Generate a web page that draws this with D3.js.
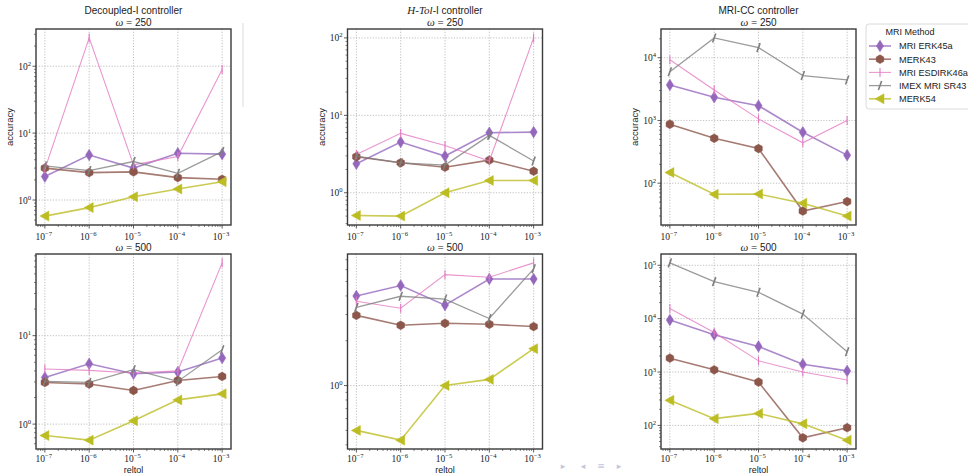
<!DOCTYPE html>
<html>
<head>
<meta charset="utf-8">
<script src="https://cdn.jsdelivr.net/npm/d3@7"></script>
<style>
  body { margin: 0; background: #fff; }
  svg { display: block; }
</style>
</head>
<body>
<div id="chart"></div>
<script>
// x values shared by every panel
const reltol = [1e-7, 1e-6, 1e-5, 1e-4, 1e-3];
const methods = ['MRI ERK45a', 'MERK43', 'MRI ESDIRK46a', 'IMEX MRI SR43', 'MERK54'];
const controllers = ['Decoupled-I', 'H-Tol-I', 'MRI-CC'];
const omegas = [250, 500];

// accuracy per method (rows in the order of `methods`)
const decoupled250 = [
  [2.24, 4.7, 3.0, 5.0, 4.85],
  [3.0, 2.57, 2.63, 2.16, 2.04],
  [2.9, 265, 3.35, 4.47, 89],
  [3.23, 2.75, 3.76, 2.51, 5.3],
  [0.575, 0.77, 1.12, 1.46, 1.88]
];
const htol250 = [
  [2.37, 4.52, 2.98, 5.97, 6.08],
  [2.92, 2.44, 2.14, 2.64, 1.90],
  [3.13, 5.85, 4.09, 2.57, 100],
  [2.98, 2.44, 2.28, 5.51, 2.57],
  [0.51, 0.50, 1.0, 1.44, 1.44]
];
const mricc250 = [
  [3680, 2340, 1720, 650, 280],
  [870, 520, 357, 36, 51],
  [9300, 3060, 1060, 440, 1000],
  [6000, 20700, 14500, 5200, 4430],
  [148, 66.5, 67.3, 48, 29.9]
];
const decoupled500 = [
  [3.37, 4.82, 3.71, 3.88, 5.59],
  [2.96, 2.84, 2.4, 3.12, 3.46],
  [4.2, 4.05, 3.78, 4.0, 66.6],
  [3.04, 2.96, 4.12, 3.04, 6.94],
  [0.743, 0.659, 1.09, 1.88, 2.2]
];
const htol500 = [
  [4.0, 4.7, 3.47, 5.2, 5.2],
  [2.96, 2.54, 2.62, 2.58, 2.49],
  [3.68, 3.31, 5.56, 5.34, 6.67],
  [3.35, 3.98, 3.81, 2.82, 6.08],
  [0.50, 0.43, 1.0, 1.1, 1.77]
];
const mricc500 = [
  [9420, 5000, 3020, 1400, 1050],
  [1820, 1100, 650, 58.6, 90.6],
  [15500, 5500, 1620, 1000, 710],
  [111000, 49400, 31200, 12200, 2390],
  [295, 134, 168, 107, 53]
];

const panelData = [decoupled250, htol250, mricc250, decoupled500, htol500, mricc500];

const colors = ['#9467bd', '#8c564b', '#e377c2', '#7f7f7f', '#bcbd22'];
const lineWidths = [1.6, 1.6, 1.1, 1.3, 1.6];

const W = 968, H = 474;
const pw = 195, ph = 196;
const colX = [36, 347.5, 661];
const rowY = [29, 254];

const svg = d3.select('#chart').append('svg')
  .attr('width', W).attr('height', H)
  .attr('viewBox', [0, 0, W, H]);

const sans = 'Liberation Sans, Arial, sans-serif';
const serif = 'Liberation Serif, Times New Roman, serif';

// matplotlib-like 5% padding in log space
function logPad(vals) {
  const lo = Math.log10(d3.min(vals)), hi = Math.log10(d3.max(vals));
  const m = (hi - lo) * 0.05;
  return [Math.pow(10, lo - m), Math.pow(10, hi + m)];
}

function decadeTicks(domain) {
  const major = [], minor = [];
  const k0 = Math.floor(Math.log10(domain[0])), k1 = Math.ceil(Math.log10(domain[1]));
  for (let k = k0; k <= k1; k++) {
    for (let m = 1; m < 10; m++) {
      const v = m * Math.pow(10, k);
      if (v < domain[0] || v > domain[1]) continue;
      (m === 1 ? major : minor).push(v);
    }
  }
  return { major, minor };
}

function powLabel(sel, v, fs) {
  const k = Math.round(Math.log10(v));
  sel.append('tspan').text('10').attr('font-size', fs);
  sel.append('tspan').text(String(k).replace('-', '\u2212'))
    .attr('font-size', fs * 0.7).attr('dy', -fs * 0.42);
}

// marker shapes
function drawMarker(g, i, x, y) {
  const c = colors[i];
  if (i === 0) {
    g.append('path').attr('d', `M${x},${y - 5.8}L${x + 3.6},${y}L${x},${y + 5.8}L${x - 3.6},${y}Z`)
      .attr('fill', c).attr('stroke', c).attr('stroke-width', 0.5);
  } else if (i === 1) {
    const pts = d3.range(6).map(j => {
      const a = Math.PI / 6 + j * Math.PI / 3;
      return [x + 4.4 * Math.cos(a), y + 4.4 * Math.sin(a)];
    });
    g.append('path').attr('d', 'M' + pts.join('L') + 'Z')
      .attr('fill', c).attr('stroke', c).attr('stroke-width', 0.5);
  } else if (i === 2) {
    g.append('line').attr('x1', x).attr('x2', x).attr('y1', y - 4.5).attr('y2', y + 4.5)
      .attr('stroke', c).attr('stroke-width', 1.1);
  } else if (i === 3) {
    g.append('line').attr('x1', x - 1.6).attr('x2', x + 1.6).attr('y1', y + 4.5).attr('y2', y - 4.5)
      .attr('stroke', c).attr('stroke-width', 1.6);
  } else {
    g.append('path').attr('d', `M${x - 5},${y}L${x + 4},${y - 5}L${x + 4},${y + 5}Z`)
      .attr('fill', c).attr('stroke', c).attr('stroke-width', 0.5);
  }
}

const xDomain = logPad(reltol);
const xt = decadeTicks(xDomain);

panelData.forEach((rows, p) => {
  const col = p % 3, row = Math.floor(p / 3);
  const g = svg.append('g').attr('transform', `translate(${colX[col]},${rowY[row]})`);
  const h = row === 0 ? ph : ph - 1;

  const x = d3.scaleLog().domain(xDomain).range([0, pw]);
  const yDomain = logPad(rows.flat());
  const y = d3.scaleLog().domain(yDomain).range([h, 0]);
  const yt = decadeTicks(yDomain);

  // grid
  g.selectAll('.gx').data(xt.major).join('line')
    .attr('x1', d => x(d)).attr('x2', d => x(d)).attr('y1', 0).attr('y2', h)
    .attr('stroke', '#b0b0b0').attr('stroke-width', 0.8).attr('stroke-dasharray', '1.2,1.6');
  g.selectAll('.gy').data(yt.major).join('line')
    .attr('x1', 0).attr('x2', pw).attr('y1', d => y(d)).attr('y2', d => y(d))
    .attr('stroke', '#b0b0b0').attr('stroke-width', 0.8).attr('stroke-dasharray', '1.2,1.6');

  // series
  const line = d3.line().x((d, j) => x(reltol[j])).y(d => y(d));
  rows.forEach((vals, i) => {
    g.append('path').attr('d', line(vals))
      .attr('fill', 'none').attr('stroke', colors[i])
      .attr('stroke-width', lineWidths[i]).attr('stroke-opacity', 0.78);
    vals.forEach((v, j) => drawMarker(g, i, x(reltol[j]), y(v)));
  });

  // spines
  g.append('rect').attr('width', pw).attr('height', h)
    .attr('fill', 'none').attr('stroke', '#3a3a3a').attr('stroke-width', 1.4);

  // ticks
  const tk = '#333';
  xt.major.forEach(v => g.append('line').attr('x1', x(v)).attr('x2', x(v)).attr('y1', h).attr('y2', h + 3.5).attr('stroke', tk).attr('stroke-width', 0.8));
  xt.minor.forEach(v => g.append('line').attr('x1', x(v)).attr('x2', x(v)).attr('y1', h).attr('y2', h + 2).attr('stroke', tk).attr('stroke-width', 0.6));
  yt.major.forEach(v => g.append('line').attr('x1', 0).attr('x2', -3.5).attr('y1', y(v)).attr('y2', y(v)).attr('stroke', tk).attr('stroke-width', 0.8));
  yt.minor.forEach(v => g.append('line').attr('x1', 0).attr('x2', -2).attr('y1', y(v)).attr('y2', y(v)).attr('stroke', tk).attr('stroke-width', 0.6));

  // tick labels
  xt.major.forEach(v => {
    const t = g.append('text').attr('x', x(v) - 1).attr('y', h + (row === 0 ? 14.5 : 12.5))
      .attr('text-anchor', 'middle').attr('font-family', serif).attr('fill', '#222');
    powLabel(t, v, 9.5);
  });
  yt.major.forEach(v => {
    const t = g.append('text').attr('x', -5).attr('y', y(v) + 3.5)
      .attr('text-anchor', 'end').attr('font-family', serif).attr('fill', '#222');
    powLabel(t, v, 9.5);
  });

  // titles
  const tx = pw / 2;
  if (row === 0) {
    const t1 = g.append('text').attr('x', tx).attr('y', -15).attr('text-anchor', 'middle')
      .attr('font-family', sans).attr('font-size', 10).attr('fill', '#222');
    if (col === 1) {
      t1.append('tspan').text('H-Tol').attr('font-family', serif).attr('font-style', 'italic').attr('font-size', 11);
      t1.append('tspan').text('-I controller');
    } else {
      t1.text(controllers[col] + ' controller');
    }
    g.append('text').attr('x', -23).attr('y', h / 2).attr('transform', `rotate(-90,-23,${h / 2})`)
      .attr('text-anchor', 'middle').attr('font-family', sans).attr('font-size', 9.5).attr('fill', '#222')
      .text('accuracy');
  } else {
    g.append('text').attr('x', pw / 2).attr('y', h + 23.5).attr('text-anchor', 'middle')
      .attr('font-family', sans).attr('font-size', 9).attr('fill', '#222').text('reltol');
  }
  const t2 = g.append('text').attr('x', tx).attr('y', -3.5).attr('text-anchor', 'middle')
    .attr('font-size', 10).attr('fill', '#222');
  t2.append('tspan').text('\u03c9').attr('font-family', serif).attr('font-style', 'italic').attr('font-size', 11);
  t2.append('tspan').text(' = ').attr('font-family', serif).attr('font-size', 11);
  t2.append('tspan').text(omegas[row]).attr('font-family', sans);
});

// legend
const lg = svg.append('g').attr('transform', 'translate(866,24)');
lg.append('rect').attr('width', 120).attr('height', 85).attr('rx', 3)
  .attr('fill', '#fff').attr('stroke', '#d0d0d0').attr('stroke-width', 0.8);
lg.append('text').attr('x', 44).attr('y', 10.5).attr('text-anchor', 'middle')
  .attr('font-family', sans).attr('font-size', 9).attr('fill', '#222').text('MRI Method');
methods.forEach((m, i) => {
  const yy = 22 + i * 13.2;
  lg.append('line').attr('x1', 3).attr('x2', 25).attr('y1', yy).attr('y2', yy)
    .attr('stroke', colors[i]).attr('stroke-width', lineWidths[i]).attr('stroke-opacity', 0.78);
  drawMarker(lg, i, 14, yy);
  lg.append('text').attr('x', 33).attr('y', yy + 3.3)
    .attr('font-family', sans).attr('font-size', 9.2).attr('fill', '#222').text(m);
});

// stray slide decorations
svg.append('line').attr('x1', 243).attr('x2', 243).attr('y1', 23).attr('y2', 107)
  .attr('stroke', '#dcdcdc').attr('stroke-width', 1);
const nav = ['\u25b8', '\u25c2', '\u2261', '\u25b8'];
const navX = [563, 583, 601, 619];
nav.forEach((s, i) => svg.append('text').attr('x', navX[i]).attr('y', 468.5)
  .attr('text-anchor', 'middle').attr('font-family', 'DejaVu Sans').attr('font-size', 9)
  .attr('fill', '#c3c6dc').text(s));
</script>
</body>
</html>
